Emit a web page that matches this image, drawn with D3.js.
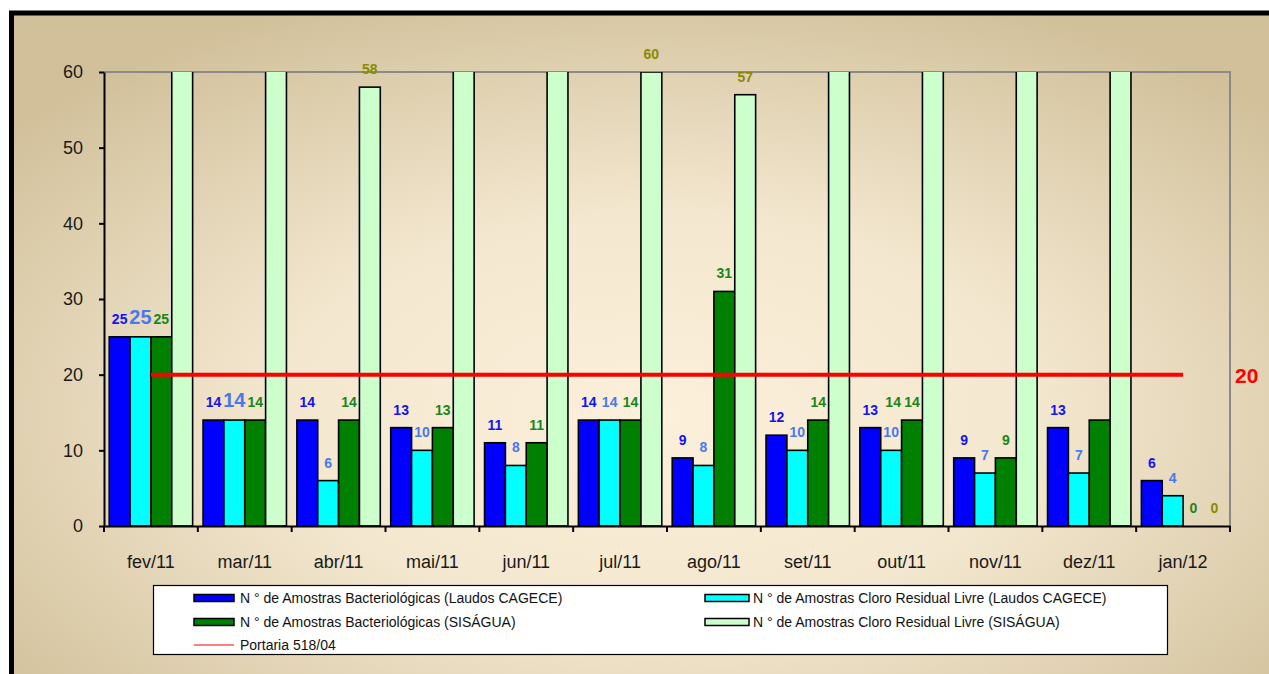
<!DOCTYPE html>
<html>
<head>
<meta charset="utf-8">
<script src="https://cdn.jsdelivr.net/npm/d3@7"></script>
<style>
  body { margin: 0; background: #fff; }
  svg { display: block; font-family: Arial, "Liberation Sans", sans-serif; }
</style>
</head>
<body>
<div id="chart"></div>
<script>
// data
var months = ["fev/11", "mar/11", "abr/11", "mai/11", "jun/11", "jul/11",
              "ago/11", "set/11", "out/11", "nov/11", "dez/11", "jan/12"];
var bactCagece  = [25, 14, 14, 13, 11, 14, 9, 12, 13, 9, 13, 6];
var cloroCagece = [25, 14, 6, 10, 8, 14, 8, 10, 10, 7, 7, 4];
var bactSisagua = [25, 14, 14, 13, 11, 14, 31, 14, 14, 9, 14, 0];
// values above 60 are cut by the axis in the original, estimated
var cloroSisagua = [70, 68, 58, 66, 64, 60, 57, 65, 67, 63, 66, 0];
var portaria = [20, 20, 20, 20, 20, 20, 20, 20, 20, 20, 20, 20];
var yTicks = [0, 10, 20, 30, 40, 50, 60];

var series = [
  {name: "N ° de Amostras Bacteriológicas (Laudos CAGECE)", values: bactCagece,
   fill: "#0000ff", label: "#1414f0"},
  {name: "N ° de Amostras Cloro Residual Livre (Laudos CAGECE)", values: cloroCagece,
   fill: "#00ffff", label: "#4a78ee"},
  {name: "N ° de Amostras Bacteriológicas (SISÁGUA)", values: bactSisagua,
   fill: "#008000", label: "#1a861a"},
  {name: "N ° de Amostras Cloro Residual Livre (SISÁGUA)", values: cloroSisagua,
   fill: "#ccffcc", label: "#8a8a00"}
];

var W = 1269, H = 674;
var plot = {left: 104, right: 1230, top: 72, bottom: 526};

var svg = d3.select("#chart").append("svg")
    .attr("width", W)
    .attr("height", H);

var defs = svg.append("defs");
var grad = defs.append("radialGradient")
    .attr("id", "bg")
    .attr("cx", "50%").attr("cy", "58%").attr("r", "65%");
grad.append("stop").attr("offset", "0%").attr("stop-color", "#fcf0db");
grad.append("stop").attr("offset", "45%").attr("stop-color", "#f3e7cf");
grad.append("stop").attr("offset", "100%").attr("stop-color", "#d1c09a");

defs.append("clipPath").attr("id", "plotclip")
  .append("rect")
    .attr("x", plot.left).attr("y", plot.top)
    .attr("width", plot.right - plot.left)
    .attr("height", plot.bottom - plot.top);

// frame
svg.append("rect")
    .attr("x", 11.5).attr("y", 13)
    .attr("width", W + 20).attr("height", H + 20)
    .attr("fill", "url(#bg)")
    .attr("stroke", "#000")
    .attr("stroke-width", 5);

// scales
var x = d3.scaleBand().domain(months).range([plot.left, plot.right]);
var xs = d3.scaleBand().domain(d3.range(series.length))
    .range([0, x.bandwidth()]).paddingOuter(0.25);
var y = d3.scaleLinear().domain([0, 60]).range([plot.bottom, plot.top]);

// plot border (top / right in grey)
svg.append("path")
    .attr("d", "M" + plot.left + "," + plot.top + "H" + plot.right + "V" + plot.bottom)
    .attr("fill", "none")
    .attr("stroke", "#8a8a8a")
    .attr("stroke-width", 2);

// bars
var barG = svg.append("g").attr("clip-path", "url(#plotclip)");
series.forEach(function(s, si) {
  barG.selectAll(".bar" + si)
    .data(s.values)
    .enter().append("rect")
      .attr("x", function(d, i) { return x(months[i]) + xs(si); })
      .attr("y", function(d) { return y(d); })
      .attr("width", xs.bandwidth())
      .attr("height", function(d) { return y(0) - y(d); })
      .attr("fill", s.fill)
      .attr("stroke", "#000")
      .attr("stroke-width", 1.6);
});

// Portaria line
var line = d3.line()
    .x(function(d, i) { return x(months[i]) + x.bandwidth() / 2; })
    .y(function(d) { return y(d); });
svg.append("path")
    .datum(portaria)
    .attr("d", line)
    .attr("fill", "none")
    .attr("stroke", "#ff0000")
    .attr("stroke-width", 4);

svg.append("text")
    .attr("x", plot.right + 5)
    .attr("y", y(20) + 8)
    .attr("fill", "#ff0000")
    .style("font-size", "21px")
    .style("font-weight", "bold")
    .text("20");

// data labels
var labelG = svg.append("g");
series.forEach(function(s, si) {
  labelG.selectAll(".lab" + si)
    .data(s.values.map(function(v, i) { return {v: v, i: i}; })
      .filter(function(d) { return d.v <= 60; }))
    .enter().append("text")
      .attr("x", function(d) {
        // the dez/11 SISÁGUA label sits over out/11 in the original
        if (si === 2 && d.i === 10) return x(months[8]) + xs(1) + xs.bandwidth() / 2 + 2;
        return x(months[d.i]) + xs(si) + xs.bandwidth() / 2;
      })
      .attr("y", function(d) {
        if (si === 2 && d.i === 10) return y(14) - 13;
        return y(d.v) - 13;
      })
      .attr("text-anchor", "middle")
      .attr("fill", s.label)
      .style("font-weight", "bold")
      .style("font-size", function(d) { return (si === 1 && d.i < 2) ? "20px" : "14px"; })
      .text(function(d) { return d.v; });
});

// y axis
var yAxis = svg.append("g")
    .attr("transform", "translate(" + plot.left + ",0)")
    .call(d3.axisLeft(y).tickValues(yTicks).tickSize(5).tickSizeOuter(0).tickPadding(16));
yAxis.select(".domain").attr("stroke", "#000").attr("stroke-width", 2);
yAxis.selectAll(".tick line").attr("stroke", "#000").attr("stroke-width", 2);
yAxis.selectAll("text")
    .style("font-size", "18px")
    .style("font-family", "Arial, 'Liberation Sans', sans-serif")
    .attr("fill", "#1a1a1a");

// x axis
var xAxis = svg.append("g")
    .attr("transform", "translate(0," + plot.bottom + ")")
    .call(d3.axisBottom(x).tickSize(0).tickSizeOuter(0).tickPadding(29));
xAxis.select(".domain").attr("stroke", "#000").attr("stroke-width", 2);
xAxis.selectAll("text")
    .style("font-size", "18px")
    .style("font-family", "Arial, 'Liberation Sans', sans-serif")
    .attr("fill", "#1a1a1a");
xAxis.selectAll(".sep")
    .data(months.concat(["end"]))
    .enter().append("line")
      .attr("x1", function(d) { return d === "end" ? plot.right : x(d); })
      .attr("x2", function(d) { return d === "end" ? plot.right : x(d); })
      .attr("y1", 0).attr("y2", 6)
      .attr("stroke", "#000").attr("stroke-width", 2);

// legend
var legend = svg.append("g");
legend.append("rect")
    .attr("x", 153.5).attr("y", 585.5)
    .attr("width", 1014).attr("height", 69)
    .attr("fill", "#fff")
    .attr("stroke", "#000")
    .attr("stroke-width", 1.2);

var legItems = series.map(function(s, i) {
  return {name: s.name, fill: s.fill, col: i % 2, row: Math.floor(i / 2), type: "bar"};
});
legItems.push({name: "Portaria 518/04", fill: "#ff0000", col: 0, row: 2, type: "line"});
var colX = [194, 705];
var rowY = [598, 622, 645];

legItems.forEach(function(d) {
  var lx = colX[d.col], ly = rowY[d.row];
  if (d.type === "bar") {
    legend.append("rect")
      .attr("x", lx).attr("y", ly - 3.5)
      .attr("width", d.col === 0 ? 40 : 44).attr("height", 7)
      .attr("fill", d.fill)
      .attr("stroke", "#000").attr("stroke-width", 1.5);
  } else {
    legend.append("line")
      .attr("x1", lx).attr("x2", lx + 40)
      .attr("y1", ly).attr("y2", ly)
      .attr("stroke", d.fill).attr("stroke-width", 1.2);
  }
  legend.append("text")
    .attr("x", lx + (d.col === 0 ? 46 : 48))
    .attr("y", ly + 5)
    .attr("fill", "#111")
    .style("font-size", "14px")
    .text(d.name);
});
</script>
</body>
</html>
